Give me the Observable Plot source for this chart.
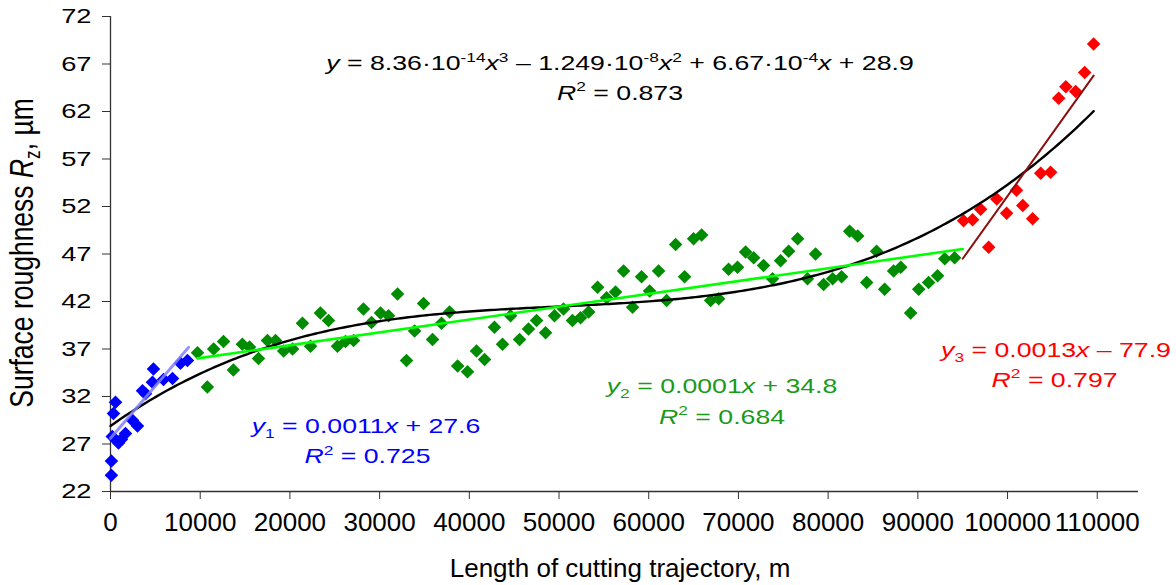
<!DOCTYPE html>
<html><head><meta charset="utf-8">
<script src="https://cdn.jsdelivr.net/npm/d3@7"></script>
<script src="https://cdn.jsdelivr.net/npm/@observablehq/plot@0.6"></script>
<style>
body{margin:0;background:#fff;}
#chart svg{font-family:"Liberation Sans",Arial,sans-serif;}
</style></head><body><div id="chart"></div>
<script>
// ---- data ----
const blueX = [100, 100, 200, 330, 560, 890, 1230, 1670, 2450, 3010, 3570, 3900, 4680, 4790, 5910, 6910, 7800, 8580];
const blueY = [23.7, 25.2, 27.8, 30.2, 31.4, 27.1, 27.5, 28.1, 29.5, 28.9, 32.6, 32.3, 33.5, 34.9, 33.8, 33.9, 35.5, 35.8];

const greenX = [9700, 10800, 11500, 12600, 13700, 14700, 15500, 16500, 17500, 18400, 19300, 20300, 21400, 22300, 23400, 24300, 25300, 26200, 27100, 28200,
  29100, 30100, 31000, 32000, 33000, 33900, 34900, 35900, 36900, 37800, 38700, 39800, 40800, 41700, 42800, 43700, 44600, 45600, 46600, 47500,
  48500, 49500, 50500, 51500, 52400, 53300, 54300, 55300, 56300, 57200, 58200, 59200, 60100, 61100, 62000, 63000, 64000, 65000, 65900, 66900,
  67800, 68900, 69900, 70800, 71700, 72800, 73800, 74700, 75600, 76600, 77700, 78600, 79500, 80500, 81500, 82400, 83300, 84300, 85400, 86300,
  87300, 88100, 89200, 90100, 91200, 92200, 93000, 94100];
const greenY = [36.6, 33.0, 37.0, 37.8, 34.8, 37.5, 37.2, 36.0, 37.9, 37.9, 36.8, 37.0, 39.7, 37.3, 40.8, 40.0, 37.3, 37.8, 37.9, 41.2,
  39.8, 40.8, 40.5, 42.8, 35.8, 38.9, 41.8, 38.0, 39.7, 40.9, 35.2, 34.6, 36.8, 35.9, 39.3, 37.5, 40.5, 38.0, 39.1, 40.0,
  38.7, 40.5, 41.2, 40.0, 40.3, 40.9, 43.5, 42.4, 43.0, 45.2, 41.4, 44.6, 43.1, 45.2, 42.1, 48.0, 44.6, 48.6, 49.0, 42.1,
  42.3, 45.4, 45.6, 47.2, 46.6, 45.8, 44.4, 46.3, 47.3, 48.6, 44.4, 47.0, 43.8, 44.4, 44.6, 49.4, 48.9, 44.0, 47.3, 43.3,
  45.2, 45.6, 40.8, 43.3, 44.0, 44.7, 46.5, 46.6];

const redX = [95100, 96100, 97000, 97900, 98800, 99900, 101000, 101700, 102800, 103700, 104800, 105700, 106500, 107600, 108600, 109600];
const redY = [50.5, 50.6, 51.7, 47.7, 52.8, 51.3, 53.7, 52.1, 50.7, 55.5, 55.6, 63.4, 64.6, 64.1, 66.1, 69.1];

// trend lines as drawn on the chart: [slope, intercept], x-extent
const blueTrend = [0.0011, 27.6], blueTrendX = [0, 8700];
const greenTrend = [0.000135, 34.7], greenTrendX = [9700, 95000];
const redTrend = [0.00132, -78.9], redTrendX = [95000, 109600];
// cubic trend (coefficients of x^3, x^2, x, 1) as printed on the chart
const cubicCoef = [8.36e-14, -1.249e-8, 6.67e-4, 28.9];
const cubicX = [0, 109600];

const xTicks = [0, 10000, 20000, 30000, 40000, 50000, 60000, 70000, 80000, 90000, 100000, 110000];
const yTicks = [22, 27, 32, 37, 42, 47, 52, 57, 62, 67, 72];

const xTitle = [["Length of cutting trajectory, m"]];
const yTitle = [["Surface roughness "], ["R", "i"], ["z", "sub"], [", µm"]];
const eqBlack = [["y", "i"], [" = 8.36·10"], ["-14", "sup"], ["x", "i"], ["3", "sup"], [" – 1.249·10"], ["-8", "sup"], ["x", "i"], ["2", "sup"], [" + 6.67·10"], ["-4", "sup"], ["x", "i"], [" + 28.9"]];
const r2Black = [["R", "i"], ["2", "sup"], [" = 0.873"]];
const eqBlue = [["y", "i"], ["1", "sub"], [" = 0.0011"], ["x", "i"], [" + 27.6"]];
const r2Blue = [["R", "i"], ["2", "sup"], [" = 0.725"]];
const eqGreen = [["y", "i"], ["2", "sub"], [" = 0.0001"], ["x", "i"], [" + 34.8"]];
const r2Green = [["R", "i"], ["2", "sup"], [" = 0.684"]];
const eqRed = [["y", "i"], ["3", "sub"], [" = 0.0013"], ["x", "i"], [" – 77.9"]];
const r2Red = [["R", "i"], ["2", "sup"], [" = 0.797"]];

// ---- build ----
const rows = (xs, ys) => xs.map((x, i) => ({x, y: ys[i]}));
const blue = rows(blueX, blueY), green = rows(greenX, greenY), red = rows(redX, redY);
const cubic = x => ((cubicCoef[0] * x + cubicCoef[1]) * x + cubicCoef[2]) * x + cubicCoef[3];
const curve = d3.range(cubicX[0], cubicX[1] + 1, 400).map(x => ({x, y: cubic(x)}));
const seg = ([m, b], xs) => xs.map(x => ({x, y: m * x + b}));

const FONT = '"Liberation Sans", Arial, sans-serif';
const chart = Plot.plot({
  width: 1176, height: 585,
  marginLeft: 110, marginRight: 38, marginTop: 16, marginBottom: 94,
  style: {fontFamily: FONT, background: "#fff", overflow: "visible"},
  x: {domain: [0, 114600], label: null},
  y: {domain: [22, 72], label: null},
  marks: [
    Plot.axisY({ticks: yTicks, tickSize: 8, tickPadding: 11, fontSize: 21, label: null, stroke: "#333", fill: "#000"}),
    Plot.axisX({ticks: xTicks, tickSize: 8, tickPadding: 13, fontSize: 26, label: null, tickFormat: d3.format("d"), stroke: "#333", fill: "#000"}),
    Plot.ruleY([22], {stroke: "#333", strokeWidth: 1.3}),
    Plot.ruleX([0], {stroke: "#333", strokeWidth: 1.3}),
    Plot.dot(blue, {x: "x", y: "y", symbol: "diamond2", r: 6.1, fill: "#0000ff"}),
    Plot.dot(green, {x: "x", y: "y", symbol: "diamond2", r: 6.1, fill: "#008c00"}),
    Plot.dot(red, {x: "x", y: "y", symbol: "diamond2", r: 6.1, fill: "#ff0000"}),
    Plot.line(curve, {x: "x", y: "y", stroke: "#000", strokeWidth: 2.4}),
    Plot.line(seg(blueTrend, blueTrendX), {x: "x", y: "y", stroke: "#8080ff", strokeWidth: 3, strokeOpacity: 0.85}),
    Plot.line(seg(greenTrend, greenTrendX), {x: "x", y: "y", stroke: "#00ff00", strokeWidth: 2.6}),
    Plot.line(seg(redTrend, redTrendX), {x: "x", y: "y", stroke: "#8b1010", strokeWidth: 2})
  ]
});
document.getElementById("chart").appendChild(chart);

const svg = d3.select(chart);
const sx = chart.scale("x"), sy = chart.scale("y");

// widen y tick labels like the reference
svg.selectAll('g[aria-label="y-axis tick label"] text').each(function() {
  const t = d3.select(this);
  const tr = t.attr("transform") || "";
  t.attr("transform", tr + " scale(1.3,1)");
});

function rich(px, py, segs, {size, color, scaleX = 1, rotate = 0, anchor = "middle"}) {
  const t = svg.append("text")
    .attr("transform", `translate(${px},${py}) scale(${scaleX},1) rotate(${rotate})`)
    .attr("text-anchor", anchor).attr("fill", color)
    .attr("font-size", size).attr("font-family", FONT);
  let shift = 0;
  for (const [txt, kind] of segs) {
    const ts = t.append("tspan").text(txt);
    const target = kind === "sup" ? -0.42 * size : kind === "sub" ? 0.22 * size : 0;
    if (target !== shift) { ts.attr("dy", target - shift); shift = target; }
    if (kind === "sup" || kind === "sub") ts.attr("font-size", size * 0.65);
    if (kind === "i") ts.attr("font-style", "italic");
  }
  if (shift !== 0) t.append("tspan").attr("dy", -shift).text("");
}

// axis titles
rich(620, 577, xTitle, {size: 26, color: "#000"});
rich(33, 253, yTitle, {size: 26.5, color: "#000", scaleX: 1.27, rotate: -90});

// equations (placed in data coordinates)
const eqOpts = s => ({size: 21, color: s, scaleX: 1.27});
rich(sx.apply(56855), sy.apply(66.28), eqBlack, eqOpts("#000"));
rich(sx.apply(56855), sy.apply(63.13), r2Black, eqOpts("#000"));
rich(sx.apply(28540), sy.apply(28.07), eqBlue, eqOpts("#0000ff"));
rich(sx.apply(28700), sy.apply(24.9), r2Blue, eqOpts("#0000ff"));
rich(sx.apply(68230), sy.apply(32.3), eqGreen, eqOpts("#1a9a1a"));
rich(sx.apply(68230), sy.apply(29.1), r2Green, eqOpts("#1a9a1a"));
rich(sx.apply(105460), sy.apply(36.06), eqRed, eqOpts("#ff0000"));
rich(sx.apply(105300), sy.apply(33.0), r2Red, eqOpts("#ff0000"));
</script></body></html>
